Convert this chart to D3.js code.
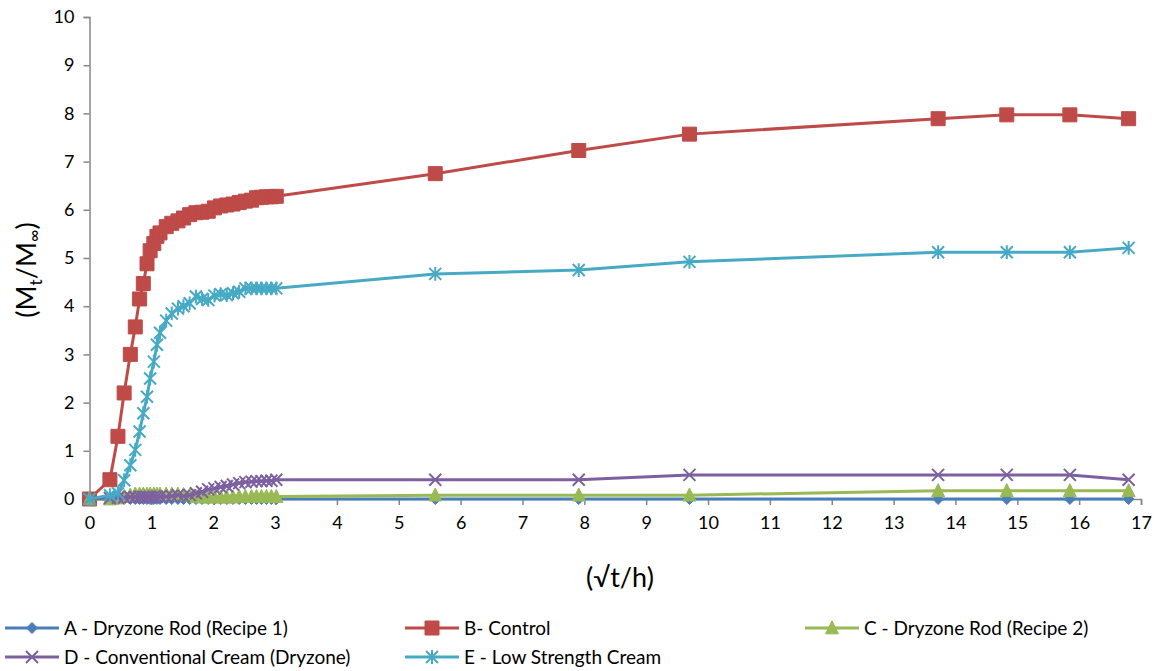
<!DOCTYPE html>
<html>
<head>
<meta charset="utf-8">
<script src="https://cdn.jsdelivr.net/npm/d3@7"></script>
<style>
  html, body { margin: 0; padding: 0; background: #fff; }
  svg { display: block; font-family: Lato, "Open Sans", sans-serif; }
</style>
</head>
<body>
<svg id="chart" width="1166" height="671"></svg>
<script>
// Sampling points on the √t/h axis (shared by all five formulations)
const rootTime = [0, 0.33, 0.46, 0.56, 0.66, 0.74, 0.81, 0.87, 0.93, 0.98, 1.04, 1.09, 1.14,
  1.24, 1.33, 1.43, 1.52, 1.62, 1.72, 1.82, 1.92, 2.02, 2.12, 2.22, 2.32, 2.42, 2.52, 2.62,
  2.70, 2.78, 2.86, 2.94, 3.02, 5.59, 7.91, 9.70, 13.72, 14.83, 15.85, 16.80];

// Mt/M∞ for each formulation
const rodRecipe1 = [0, 0, 0, 0, 0, 0, 0, 0, 0, 0, 0, 0, 0, 0, 0, 0, 0, 0, 0, 0, 0, 0, 0, 0,
  0, 0, 0, 0, 0, 0, 0, 0, 0, 0, 0, 0, 0, 0, 0, 0];
const control = [0, 0.40, 1.30, 2.20, 3.00, 3.57, 4.15, 4.47, 4.88, 5.15, 5.30, 5.45, 5.52,
  5.65, 5.72, 5.77, 5.83, 5.90, 5.94, 5.95, 5.97, 6.04, 6.08, 6.10, 6.12, 6.15, 6.18, 6.20,
  6.25, 6.26, 6.27, 6.27, 6.28, 6.75, 7.23, 7.57, 7.89, 7.97, 7.97, 7.89];
const rodRecipe2 = [0, 0, 0.02, 0.05, 0.08, 0.10, 0.10, 0.10, 0.10, 0.10, 0.10, 0.10, 0.10,
  0.10, 0.10, 0.10, 0.09, 0.08, 0.05, 0.04, 0.04, 0.04, 0.04, 0.04, 0.04, 0.05, 0.05, 0.05,
  0.05, 0.05, 0.05, 0.05, 0.05, 0.08, 0.08, 0.08, 0.17, 0.17, 0.17, 0.17];
const conventionalCream = [0, 0.02, 0.03, 0.03, 0.04, 0.04, 0.04, 0.04, 0.04, 0.04, 0.05, 0.05,
  0.05, 0.05, 0.06, 0.08, 0.06, 0.08, 0.12, 0.15, 0.20, 0.22, 0.25, 0.27, 0.30, 0.33, 0.35,
  0.36, 0.37, 0.37, 0.38, 0.38, 0.40, 0.40, 0.40, 0.50, 0.50, 0.50, 0.50, 0.40];
const lowStrengthCream = [0, 0.08, 0.12, 0.39, 0.70, 1.02, 1.40, 1.78, 2.12, 2.50, 2.85, 3.20,
  3.45, 3.70, 3.85, 3.95, 4.00, 4.06, 4.20, 4.15, 4.13, 4.22, 4.25, 4.23, 4.27, 4.30, 4.37,
  4.37, 4.37, 4.37, 4.37, 4.37, 4.37, 4.67, 4.75, 4.92, 5.12, 5.12, 5.12, 5.21];

const seriesNames = ["A - Dryzone Rod (Recipe 1)", "B- Control", "C - Dryzone Rod (Recipe 2)",
  "D - Conventional Cream (Dryzone)", "E - Low Strength Cream"];
const seriesValues = [rodRecipe1, control, rodRecipe2, conventionalCream, lowStrengthCream];
const seriesColors = ["#4a7ebb", "#be4b48", "#98b954", "#7d60a0", "#46aac5"];
const seriesMarkers = ["diamond", "square", "triangle", "cross", "asterisk"];

const xTicks = d3.range(0, 18);
const yTicks = d3.range(0, 11);

const svg = d3.select("#chart");
const x = d3.scaleLinear().domain([0, 17]).range([89.5, 1141]);
const y = d3.scaleLinear().domain([0, 10]).range([499, 17]);

const axisColor = "#868686";

// Axes
const xAxis = svg.append("g").attr("transform", `translate(0,${y(0)})`)
  .call(d3.axisBottom(x).tickValues(xTicks).tickSize(6).tickPadding(11).tickFormat(d3.format("d")));
const yAxis = svg.append("g").attr("transform", `translate(${x(0)},0)`)
  .call(d3.axisLeft(y).tickValues(yTicks).tickSize(6).tickPadding(9).tickFormat(d3.format("d")));
[xAxis, yAxis].forEach(g => {
  g.select(".domain").attr("stroke", axisColor).attr("stroke-width", 1.5);
  g.selectAll(".tick line").attr("stroke", axisColor).attr("stroke-width", 1.5);
  g.selectAll(".tick text").attr("fill", "#000").style("font-size", "18px")
    .style("font-family", "Lato, 'Open Sans', sans-serif");
});

// Marker symbols
function markerPath(kind, s) {
  const h = s / 2;
  switch (kind) {
    case "diamond": return `M0,${-h}L${h},0L0,${h}L${-h},0Z`;
    case "square": return `M${-h},${-h}H${h}V${h}H${-h}Z`;
    case "triangle": return `M0,${-h * 1.1}L${h},${h * 0.9}L${-h},${h * 0.9}Z`;
    case "cross": return `M${-h},${-h}L${h},${h}M${-h},${h}L${h},${-h}`;
    case "asterisk": return `M${-h},${-h}L${h},${h}M${-h},${h}L${h},${-h}M0,${-h * 1.15}V${h * 1.15}`;
  }
}
const markerSize = { diamond: 11, square: 14, triangle: 13, cross: 12, asterisk: 12 };
function drawMarker(g, kind, color, cx, cy) {
  const filled = kind === "diamond" || kind === "square" || kind === "triangle";
  g.append("path")
    .attr("d", markerPath(kind, markerSize[kind]))
    .attr("transform", `translate(${cx},${cy})`)
    .attr("fill", filled ? color : "none")
    .attr("stroke", color)
    .attr("stroke-width", filled ? 1 : 2)
    .attr("stroke-linejoin", "round");
}

const line = d3.line().x(d => x(d[0])).y(d => y(d[1]));

seriesValues.forEach((vals, i) => {
  const pts = rootTime.map((t, j) => [t, vals[j]]);
  const g = svg.append("g");
  g.append("path").datum(pts).attr("d", line)
    .attr("fill", "none").attr("stroke", seriesColors[i]).attr("stroke-width", 3)
    .attr("stroke-linejoin", "round");
  pts.forEach(p => drawMarker(g, seriesMarkers[i], seriesColors[i], x(p[0]), y(p[1])));
});

// Axis titles
svg.append("text").attr("x", 620).attr("y", 587).attr("text-anchor", "middle")
  .style("font-size", "27px").text("(√t/h)");

const yTitle = svg.append("text")
  .attr("transform", `translate(36,270) rotate(-90)`)
  .attr("text-anchor", "middle").style("font-size", "27px");
yTitle.append("tspan").text("(M");
yTitle.append("tspan").attr("dy", 6).style("font-size", "17px").text("t");
yTitle.append("tspan").attr("dy", -6).text("/M");
yTitle.append("tspan").attr("dy", 4).style("font-size", "17px").text("∞");
yTitle.append("tspan").attr("dy", -4).text(")");

// Legend
const legendCols = [5, 405, 805];
seriesNames.forEach((name, i) => {
  const lx = legendCols[i % 3];
  const ly = i < 3 ? 628 : 657;
  const g = svg.append("g");
  g.append("line").attr("x1", lx).attr("x2", lx + 54).attr("y1", ly).attr("y2", ly)
    .attr("stroke", seriesColors[i]).attr("stroke-width", 3);
  drawMarker(g, seriesMarkers[i], seriesColors[i], lx + 27, ly);
  g.append("text").attr("x", lx + 59).attr("y", ly + 6.5).style("font-size", "19px").text(name);
});
</script>
</body>
</html>
